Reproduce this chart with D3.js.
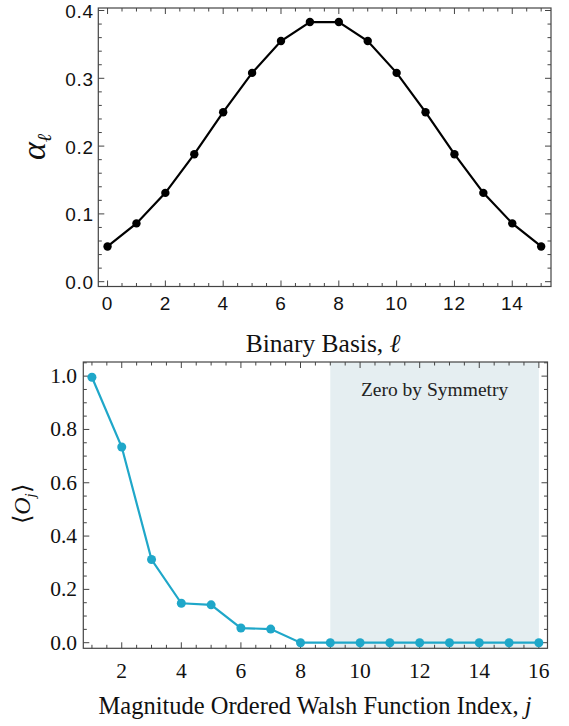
<!DOCTYPE html>
<html><head><meta charset="utf-8">
<script src="https://cdn.jsdelivr.net/npm/d3@7"></script>
<style>body{margin:0;background:#fff}</style>
</head><body>
<svg id="c" width="569" height="726"></svg>
<script>
// Top panel data
const basisIndex = d3.range(0, 16);
const alphaValues = [0.052,0.086,0.131,0.188,0.250,0.308,0.355,0.383,0.383,0.355,0.308,0.250,0.188,0.131,0.086,0.052];
const topXTicks = [0,2,4,6,8,10,12,14];
const topYTicks = [0.0,0.1,0.2,0.3,0.4];
// Bottom panel data
const walshIndex = d3.range(1, 17);
const walshValues = [0.996,0.734,0.312,0.148,0.142,0.055,0.051,0,0,0,0,0,0,0,0,0];
const botXTicks = [2,4,6,8,10,12,14,16];
const botYTicks = [0.0,0.2,0.4,0.6,0.8,1.0];
const zeroRegion = [9, 16];
const zeroLabel = "Zero by Symmetry";

const svg = d3.select("#c");
const frameColor = "#444";
const SERIF = "Liberation Serif, Times New Roman, serif";
const SANS = "Liberation Sans, Arial, sans-serif";

function frame(g, x, y, xMinor, yMinor, majorLen, minorLen) {
  const [x0, x1] = x.range(), [y0, y1] = y.range();
  g.append("rect").attr("x", x0).attr("y", y1).attr("width", x1 - x0).attr("height", y0 - y1)
    .attr("fill", "none").attr("stroke", frameColor).attr("stroke-width", 1.2);
  const tk = g.append("g").attr("stroke", frameColor).attr("stroke-width", 1);
  xMinor.forEach(d => {
    const len = d.major ? majorLen : minorLen, px = x(d.v);
    tk.append("line").attr("x1", px).attr("x2", px).attr("y1", y0).attr("y2", y0 - len);
    tk.append("line").attr("x1", px).attr("x2", px).attr("y1", y1).attr("y2", y1 + len);
  });
  yMinor.forEach(d => {
    const len = d.major ? majorLen : minorLen, py = y(d.v);
    tk.append("line").attr("y1", py).attr("y2", py).attr("x1", x0).attr("x2", x0 + len);
    tk.append("line").attr("y1", py).attr("y2", py).attr("x1", x1).attr("x2", x1 - len);
  });
}
function tickList(lo, hi, step, majorStep) {
  const out = [];
  const n = Math.round((hi - lo) / step);
  for (let i = 0; i <= n; i++) {
    const v = +(lo + i * step).toFixed(6);
    const r = v / majorStep;
    out.push({v, major: Math.abs(r - Math.round(r)) < 1e-6});
  }
  return out;
}

// ---------- Top panel ----------
{
  const x = d3.scaleLinear().domain([-0.32, 15.34]).range([98.3, 551]);
  const y = d3.scaleLinear().domain([-0.0071, 0.4037]).range([286.5, 8]);
  const g = svg.append("g");
  frame(g, x, y, tickList(-0.0, 15.0, 0.5, 2), tickList(0, 0.4, 0.02, 0.1), 6, 3.5);
  g.append("g").selectAll("text").data(topXTicks).join("text")
    .attr("x", d => x(d)).attr("y", 310).attr("text-anchor", "middle")
    .attr("font-family", SANS).attr("font-size", 19).attr("letter-spacing", 0.8).attr("fill", "#111")
    .text(d => d);
  g.append("g").selectAll("text").data(topYTicks).join("text")
    .attr("x", 94).attr("y", d => y(d) + 7.5).attr("text-anchor", "end")
    .attr("font-family", SANS).attr("font-size", 19).attr("letter-spacing", 0.8).attr("fill", "#111")
    .text(d => d.toFixed(1));
  const line = d3.line().x((d, i) => x(basisIndex[i])).y(d => y(d));
  g.append("path").datum(alphaValues).attr("d", line).attr("fill", "none")
    .attr("stroke", "#000").attr("stroke-width", 2.2);
  g.append("g").selectAll("circle").data(alphaValues).join("circle")
    .attr("cx", (d, i) => x(basisIndex[i])).attr("cy", d => y(d)).attr("r", 4.2).attr("fill", "#000");
  // y label alpha_l
  const yl = g.append("text").attr("transform", "translate(45,147) rotate(-90)")
    .attr("text-anchor", "middle").attr("font-family", SERIF)
    .attr("font-style", "italic").attr("fill", "#111");
  yl.append("tspan").attr("font-size", 34).text("α");
  yl.append("tspan").attr("font-size", 20).attr("dy", 6).text("ℓ");
  // x label
  const xl = g.append("text").attr("x", 323).attr("y", 352).attr("text-anchor", "middle")
    .attr("font-family", SERIF).attr("font-size", 25.5).attr("fill", "#111");
  xl.append("tspan").text("Binary Basis, ");
  xl.append("tspan").attr("font-style", "italic").text("ℓ");
}

// ---------- Bottom panel ----------
{
  const x = d3.scaleLinear().domain([0.71, 16.29]).range([83.3, 547.5]);
  const y = d3.scaleLinear().domain([-0.021, 1.053]).range([648.3, 362]);
  const g = svg.append("g");
  const teal = "#1fa7c9";
  g.append("rect").attr("x", x(zeroRegion[0])).attr("y", y(1.053))
    .attr("width", x(zeroRegion[1]) - x(zeroRegion[0])).attr("height", y(-0.021) - y(1.053))
    .attr("fill", "#e5eef1");
  g.append("text").attr("x", (x(zeroRegion[0]) + x(zeroRegion[1])) / 2).attr("y", 396)
    .attr("text-anchor", "middle").attr("font-family", SERIF)
    .attr("font-size", 19.5).attr("fill", "#222").text(zeroLabel);
  frame(g, x, y, tickList(1.0, 16.0, 0.5, 2), tickList(0, 1.05, 0.05, 0.2), 6, 3.5);
  g.append("g").selectAll("text").data(botXTicks).join("text")
    .attr("x", d => x(d)).attr("y", 678).attr("text-anchor", "middle")
    .attr("font-family", SERIF).attr("font-size", 21.5).attr("fill", "#111")
    .text(d => d);
  g.append("g").selectAll("text").data(botYTicks).join("text")
    .attr("x", 77).attr("y", d => y(d) + 7).attr("text-anchor", "end")
    .attr("font-family", SERIF).attr("font-size", 21.5).attr("fill", "#111")
    .text(d => d.toFixed(1));
  const line = d3.line().x((d, i) => x(walshIndex[i])).y(d => y(d));
  g.append("path").datum(walshValues).attr("d", line).attr("fill", "none")
    .attr("stroke", teal).attr("stroke-width", 2.2);
  g.append("g").selectAll("circle").data(walshValues).join("circle")
    .attr("cx", (d, i) => x(walshIndex[i])).attr("cy", d => y(d)).attr("r", 4.5).attr("fill", teal);
  // y label <O_j>
  const yl = g.append("text").attr("transform", "translate(30,504) rotate(-90)")
    .attr("text-anchor", "middle").attr("font-family", SERIF)
    .attr("font-size", 24).attr("fill", "#111");
  yl.append("tspan").text("⟨");
  yl.append("tspan").attr("font-style", "italic").text("O");
  yl.append("tspan").attr("font-style", "italic").attr("font-size", 15).attr("dy", 5).text("j");
  yl.append("tspan").attr("dy", -5).text("⟩");
  // x label
  const xl = g.append("text").attr("x", 315).attr("y", 714).attr("text-anchor", "middle")
    .attr("font-family", SERIF).attr("font-size", 24.5).attr("fill", "#111");
  xl.append("tspan").text("Magnitude Ordered Walsh Function Index, ");
  xl.append("tspan").attr("font-style", "italic").text("j");
}
</script>
</body></html>
